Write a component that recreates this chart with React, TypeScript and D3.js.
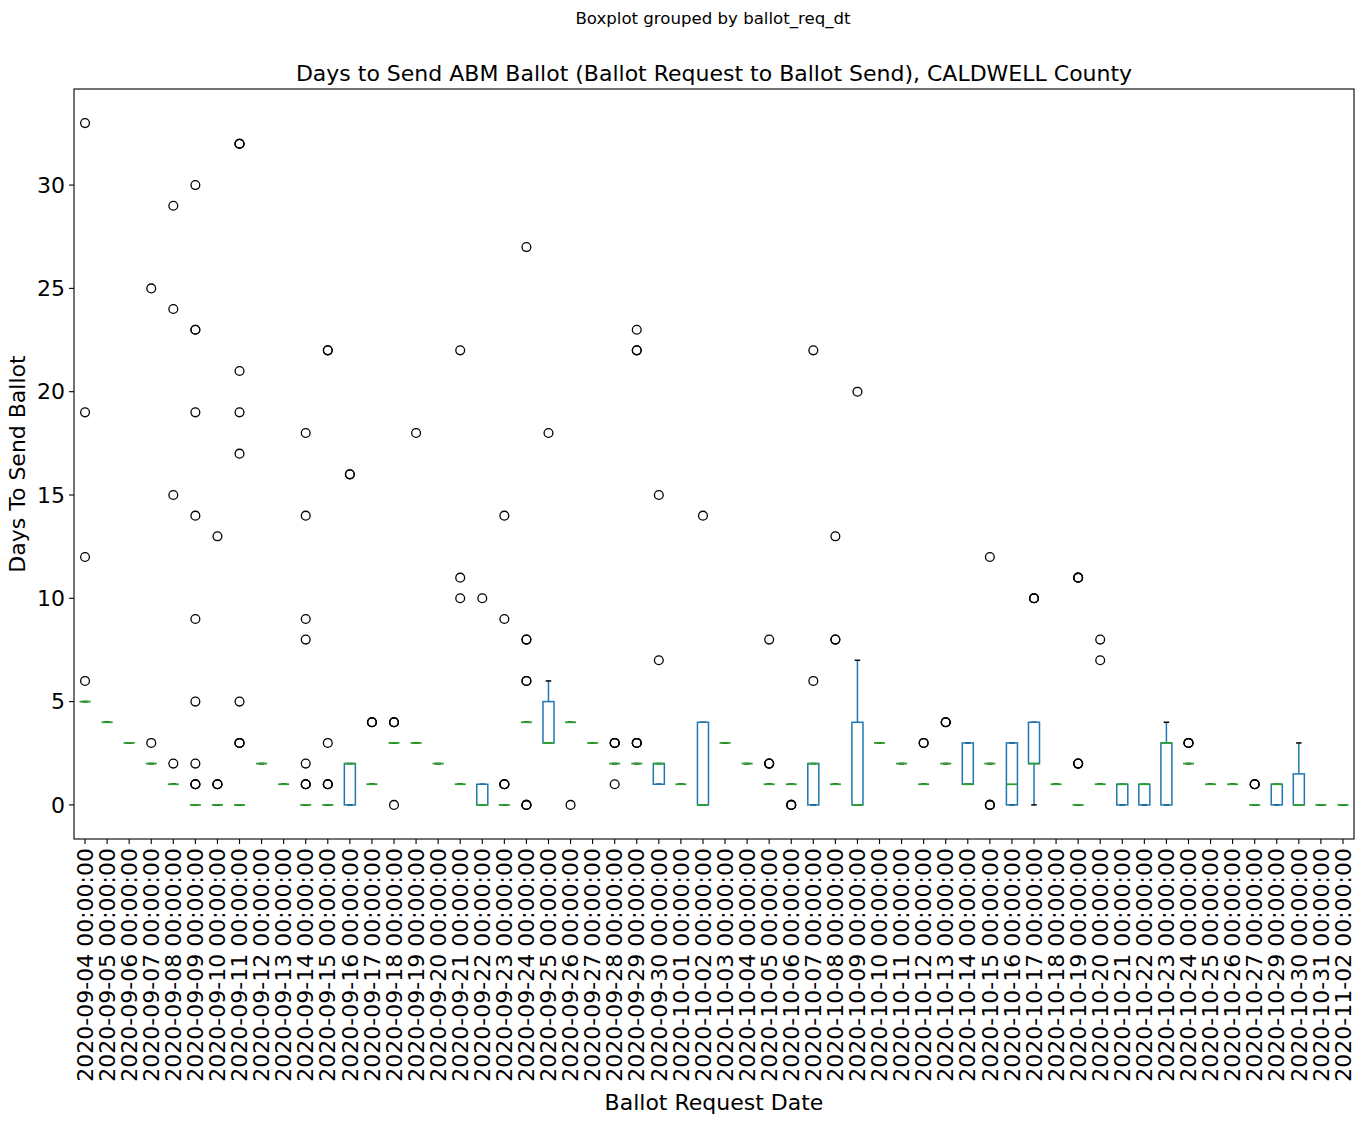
import * as d3 from "d3";

// ballot request dates (one box per date)
const dates = [
  "2020-09-04", "2020-09-05", "2020-09-06", "2020-09-07", "2020-09-08", "2020-09-09",
  "2020-09-10", "2020-09-11", "2020-09-12", "2020-09-13", "2020-09-14", "2020-09-15",
  "2020-09-16", "2020-09-17", "2020-09-18", "2020-09-19", "2020-09-20", "2020-09-21",
  "2020-09-22", "2020-09-23", "2020-09-24", "2020-09-25", "2020-09-26", "2020-09-27",
  "2020-09-28", "2020-09-29", "2020-09-30", "2020-10-01", "2020-10-02", "2020-10-03",
  "2020-10-04", "2020-10-05", "2020-10-06", "2020-10-07", "2020-10-08", "2020-10-09",
  "2020-10-10", "2020-10-11", "2020-10-12", "2020-10-13", "2020-10-14", "2020-10-15",
  "2020-10-16", "2020-10-17", "2020-10-18", "2020-10-19", "2020-10-20", "2020-10-21",
  "2020-10-22", "2020-10-23", "2020-10-24", "2020-10-25", "2020-10-26", "2020-10-27",
  "2020-10-29", "2020-10-30", "2020-10-31", "2020-11-02",
];

const q1 = [
  5, 4, 3, 2, 1, 0, 0, 0, 2, 1, 0, 0, 0, 1, 3, 3, 2, 1, 0, 0, 4, 3, 4, 3, 2, 2, 1, 1, 0,
  3, 2, 1, 1, 0, 1, 0, 3, 2, 1, 2, 1, 2, 0, 2, 1, 0, 1, 0, 0, 0, 2, 1, 1, 0, 0, 0, 0, 0,
];
const medians = [
  5, 4, 3, 2, 1, 0, 0, 0, 2, 1, 0, 0, 2, 1, 3, 3, 2, 1, 0, 0, 4, 3, 4, 3, 2, 2, 2, 1, 0,
  3, 2, 1, 1, 2, 1, 0, 3, 2, 1, 2, 1, 2, 1, 2, 1, 0, 1, 1, 1, 3, 2, 1, 1, 0, 1, 0, 0, 0,
];
const q3 = [
  5, 4, 3, 2, 1, 0, 0, 0, 2, 1, 0, 0, 2, 1, 3, 3, 2, 1, 1, 0, 4, 5, 4, 3, 2, 2, 2, 1, 4,
  3, 2, 1, 1, 2, 1, 4, 3, 2, 1, 2, 3, 2, 3, 4, 1, 0, 1, 1, 1, 3, 2, 1, 1, 0, 1, 1.5, 0, 0,
];
const whiskerLow = [
  5, 4, 3, 2, 1, 0, 0, 0, 2, 1, 0, 0, 0, 1, 3, 3, 2, 1, 0, 0, 4, 3, 4, 3, 2, 2, 1, 1, 0,
  3, 2, 1, 1, 0, 1, 0, 3, 2, 1, 2, 1, 2, 0, 0, 1, 0, 1, 0, 0, 0, 2, 1, 1, 0, 0, 0, 0, 0,
];
const whiskerHigh = [
  5, 4, 3, 2, 1, 0, 0, 0, 2, 1, 0, 0, 2, 1, 3, 3, 2, 1, 1, 0, 4, 6, 4, 3, 2, 2, 2, 1, 4,
  3, 2, 1, 1, 2, 1, 7, 3, 2, 1, 2, 3, 2, 3, 4, 1, 0, 1, 1, 1, 4, 2, 1, 1, 0, 1, 3, 0, 0,
];
// repeated values = several identical outliers drawn on top of each other
const outliers: number[][] = [
  [33, 19, 12, 6],
  [],
  [],
  [25, 3],
  [29, 24, 15, 2],
  [30, 23, 23, 19, 14, 9, 5, 2, 1, 1, 1],
  [13, 1, 1, 1],
  [32, 32, 32, 21, 19, 17, 5, 3, 3, 3],
  [],
  [],
  [18, 14, 9, 8, 2, 1, 1, 1],
  [22, 22, 3, 1, 1, 1],
  [16, 16],
  [4, 4, 4],
  [4, 4, 4, 0],
  [18],
  [],
  [22, 11, 10],
  [10],
  [14, 9, 1, 1, 1],
  [27, 8, 8, 6, 6, 0, 0, 0],
  [18],
  [0],
  [],
  [3, 3, 3, 1],
  [23, 22, 22, 3, 3, 3],
  [15, 7],
  [],
  [14],
  [],
  [],
  [8, 2, 2, 2],
  [0, 0, 0],
  [22, 6],
  [13, 8, 8],
  [20],
  [],
  [],
  [3, 3],
  [4, 4, 4],
  [],
  [12, 0, 0, 0],
  [],
  [10, 10, 10],
  [],
  [11, 11, 11, 2, 2, 2],
  [8, 7],
  [],
  [],
  [],
  [3, 3, 3],
  [],
  [],
  [1, 1, 1],
  [],
  [],
  [],
  [],
];

const yTicks = [0, 5, 10, 15, 20, 25, 30];

const W = 1363;
const H = 1122;
const plot = { left: 74, right: 1354, top: 89, bottom: 839 };
const FONT = "DejaVu Sans, sans-serif";

export default function App() {
  const n = dates.length;
  const x = d3.scaleLinear().domain([0.5, n + 0.5]).range([plot.left, plot.right]);
  const y = d3.scaleLinear().domain([-1.65, 34.65]).range([plot.bottom, plot.top]);
  const step = x(2) - x(1);
  const boxW = step * 0.5;
  const capW = boxW * 0.5;
  const lw = 1.5;

  return (
    <svg width={W} height={H} style={{ display: "block", margin: "-8px" }} fontFamily={FONT}>
      <rect width={W} height={H} fill="white" />
      <text x={713} y={24} textAnchor="middle" fontSize={16.6}>
        Boxplot grouped by ballot_req_dt
      </text>
      <text x={(plot.left + plot.right) / 2} y={81} textAnchor="middle" fontSize={22}>
        Days to Send ABM Ballot (Ballot Request to Ballot Send), CALDWELL County
      </text>

      {/* boxes */}
      {dates.map((d, i) => {
        const cx = x(i + 1);
        return (
          <g key={d}>
            <line x1={cx} x2={cx} y1={y(q1[i])} y2={y(whiskerLow[i])} stroke="#1f77b4" strokeWidth={lw} />
            <line x1={cx} x2={cx} y1={y(q3[i])} y2={y(whiskerHigh[i])} stroke="#1f77b4" strokeWidth={lw} />
            <line x1={cx - capW / 2} x2={cx + capW / 2} y1={y(whiskerLow[i])} y2={y(whiskerLow[i])} stroke="black" strokeWidth={lw} />
            <line x1={cx - capW / 2} x2={cx + capW / 2} y1={y(whiskerHigh[i])} y2={y(whiskerHigh[i])} stroke="black" strokeWidth={lw} />
            <rect
              x={cx - boxW / 2}
              y={y(q3[i])}
              width={boxW}
              height={y(q1[i]) - y(q3[i])}
              fill="none"
              stroke="#1f77b4"
              strokeWidth={lw}
            />
            <line x1={cx - boxW / 2} x2={cx + boxW / 2} y1={y(medians[i])} y2={y(medians[i])} stroke="#2ca02c" strokeWidth={lw + 0.3} />
            {outliers[i].map((v, k) => (
              <circle key={k} cx={cx} cy={y(v)} r={4.4} fill="none" stroke="black" strokeWidth={1.3} />
            ))}
          </g>
        );
      })}

      {/* frame */}
      <rect
        x={plot.left}
        y={plot.top}
        width={plot.right - plot.left}
        height={plot.bottom - plot.top}
        fill="none"
        stroke="black"
        strokeWidth={1.1}
      />

      {/* y axis */}
      {yTicks.map((t) => (
        <g key={t}>
          <line x1={plot.left - 5} x2={plot.left} y1={y(t)} y2={y(t)} stroke="black" strokeWidth={1.1} />
          <text x={plot.left - 9} y={y(t)} dy="0.35em" textAnchor="end" fontSize={22}>
            {t}
          </text>
        </g>
      ))}
      <text transform={`translate(25,${(plot.top + plot.bottom) / 2}) rotate(-90)`} textAnchor="middle" fontSize={22}>
        Days To Send Ballot
      </text>

      {/* x axis */}
      {dates.map((d, i) => (
        <g key={d}>
          <line x1={x(i + 1)} x2={x(i + 1)} y1={plot.bottom} y2={plot.bottom + 5} stroke="black" strokeWidth={1.1} />
          <text
            transform={`translate(${x(i + 1)},${plot.bottom + 9}) rotate(-90)`}
            dy="0.35em"
            textAnchor="end"
            fontSize={22}
          >
            {d} 00:00:00
          </text>
        </g>
      ))}
      <text x={(plot.left + plot.right) / 2} y={1110} textAnchor="middle" fontSize={22}>
        Ballot Request Date
      </text>
    </svg>
  );
}
